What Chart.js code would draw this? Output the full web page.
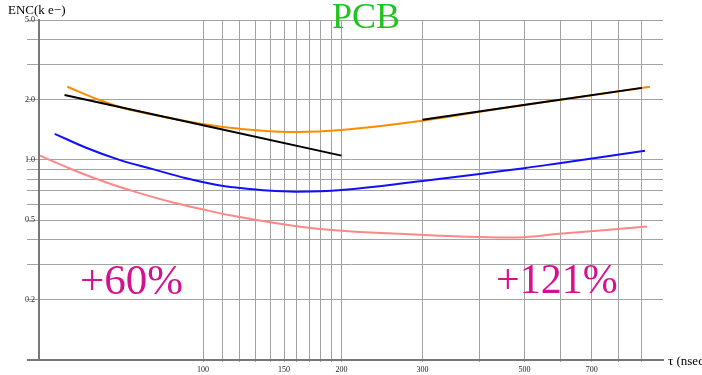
<!DOCTYPE html>
<html lang="en">
<head>
  <meta charset="UTF-8" />
  <title>ENC vs shaping time - PCB</title>
  <script src="https://cdn.jsdelivr.net/npm/chart.js"></script>
  <style>
    body {
      margin: 0;
      background: #fff;
    }
    #chart {
      display: block;
    }
  </style>
</head>
<body>
  <canvas id="chart" width="702" height="375"></canvas>

  <script>
    // shaping time (nsec) and ENC (k e-)
    const orangeTau = [50.7, 58.9, 69.4, 100, 120, 154, 200, 300, 400, 500, 600, 750, 937];
    const orangeEnc = [2.32, 2.01, 1.78, 1.51, 1.43, 1.38, 1.41, 1.57, 1.74, 1.88, 2.0, 2.15, 2.32];

    const blackTauLow = [50, 200];
    const blackEncLow = [2.11, 1.05];
    const blackTauHigh = [300, 900];
    const blackEncHigh = [1.585, 2.29];

    const blueTau = [47.6, 55.7, 65.8, 77.8, 91.9, 106.7, 120, 135, 159.7, 200, 300, 399, 499, 595, 914];
    const blueEnc = [1.35, 1.15, 1.0, 0.899, 0.81, 0.752, 0.724, 0.705, 0.694, 0.708, 0.785, 0.851, 0.909, 0.963, 1.11];

    const pinkTau = [44.2, 51.3, 60.6, 71.6, 84.5, 100, 114.4, 159.7, 200, 300, 399, 499, 595, 923];
    const pinkEnc = [1.05, 0.906, 0.782, 0.69, 0.619, 0.565, 0.529, 0.466, 0.443, 0.422, 0.412, 0.411, 0.427, 0.464];

    // grid and labels
    const xGrid = [100, 110, 120, 130, 140, 150, 160, 170, 180, 190, 200, 300, 400, 500, 600, 700, 800, 900];
    const xLabels = [100, 150, 200, 300, 500, 700];
    const yGrid = [0.2, 0.3, 0.4, 0.5, 0.6, 0.7, 0.8, 0.9, 1, 2, 3, 4, 5];
    const yLabels = [0.2, 0.5, 1, 2, 5];

    const pts = (xs, ys) => xs.map((x, i) => ({ x: x, y: ys[i] }));

    const line = (data, color) => ({
      data: data,
      borderColor: color,
      borderWidth: 2,
      pointRadius: 0,
      fill: false,
      tension: 0.4
    });

    const serif = "'Liberation Serif', 'DejaVu Serif', serif";

    // free text on the plot plus the left stub of the x axis
    const notes = {
      id: 'notes',
      afterDraw(chart) {
        const ctx = chart.ctx;
        const a = chart.chartArea;
        ctx.save();

        ctx.strokeStyle = '#777';
        ctx.lineWidth = 2;
        ctx.beginPath();
        ctx.moveTo(a.left - 12, Math.round(a.bottom));
        ctx.lineTo(a.left, Math.round(a.bottom));
        ctx.stroke();

        ctx.textBaseline = 'alphabetic';
        ctx.textAlign = 'left';
        ctx.fillStyle = '#000';
        ctx.font = '13px ' + serif;
        ctx.fillText('ENC(k e\u2212)', 8, 14);

        ctx.font = '13px ' + serif;
        ctx.fillText('\u03c4 (nsec)', 668, 365);

        ctx.textAlign = 'center';
        ctx.fillStyle = '#1fc41f';
        ctx.font = '36px ' + serif;
        ctx.fillText('PCB', 366, 28);

        ctx.textAlign = 'left';
        ctx.fillStyle = '#d4118e';
        ctx.font = '43px ' + serif;
        ctx.fillText('+60%', 80, 294);
        ctx.font = '42px ' + serif;
        ctx.fillText('+121%', 496, 293);

        ctx.restore();
      }
    };

    new Chart(document.getElementById('chart'), {
      type: 'line',
      data: {
        datasets: [
          line(pts(blackTauLow, blackEncLow), '#000000'),
          line(pts(blackTauHigh, blackEncHigh), '#000000'),
          line(pts(orangeTau, orangeEnc), '#ff8c00'),
          line(pts(blueTau, blueEnc), '#1010ff'),
          line(pts(pinkTau, pinkEnc), '#ff8787')
        ]
      },
      options: {
        responsive: false,
        animation: false,
        layout: { padding: { top: 20, right: 39, left: 0, bottom: 0 } },
        plugins: {
          legend: { display: false },
          tooltip: { enabled: false }
        },
        scales: {
          x: {
            type: 'logarithmic',
            min: 44,
            max: 1000,
            afterBuildTicks: s => { s.ticks = xGrid.map(v => ({ value: v })); },
            afterFit: s => { s.height = 15; },
            ticks: {
              autoSkip: false,
              maxRotation: 0,
              padding: 3,
              color: '#222',
              font: { family: serif, size: 8 },
              callback: v => xLabels.includes(v) ? String(v) : ''
            },
            grid: { color: '#a3a3a3', lineWidth: 1, tickLength: 2 },
            border: { color: '#777', width: 2 }
          },
          y: {
            type: 'logarithmic',
            min: 0.1,
            max: 5,
            afterBuildTicks: s => { s.ticks = yGrid.map(v => ({ value: v })); },
            afterFit: s => { s.width = 39; },
            ticks: {
              autoSkip: false,
              padding: -8,
              color: '#222',
              font: { family: serif, size: 8 },
              callback: v => yLabels.includes(v) ? v.toFixed(1) : ''
            },
            grid: { color: '#a3a3a3', lineWidth: 1, tickLength: 12 },
            border: { color: '#777', width: 2 }
          }
        }
      },
      plugins: [notes]
    });
  </script>
</body>
</html>
